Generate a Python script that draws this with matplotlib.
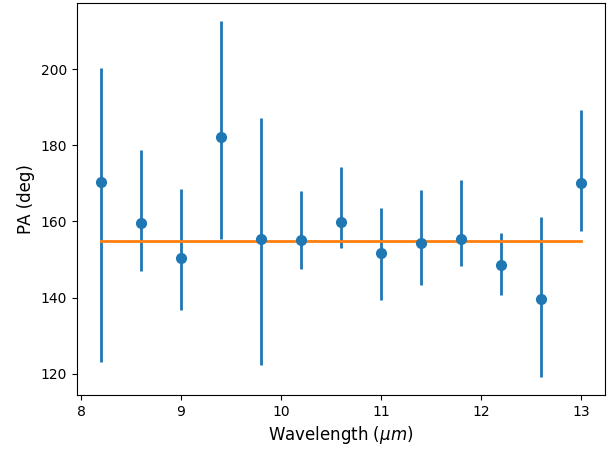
import matplotlib
matplotlib.use("Agg")
import matplotlib.pyplot as plt
import numpy as np

# Position angle vs wavelength
wavelength = [8.2, 8.6, 9.0, 9.4, 9.8, 10.2, 10.6, 11.0, 11.4, 11.8, 12.2, 12.6, 13.0]
pa = [170.3, 159.7, 150.5, 182.3, 155.4, 155.2, 159.8, 151.7, 154.3, 155.4, 148.6, 139.7, 170.2]
pa_upper = [200.4, 178.8, 168.6, 212.7, 187.3, 168.0, 174.2, 163.6, 168.3, 170.9, 156.9, 161.3, 189.3]
pa_lower = [123.2, 147.0, 136.8, 155.5, 122.2, 147.5, 153.0, 139.3, 143.2, 148.2, 140.7, 119.1, 157.5]
pa_mean = 154.9

pa = np.array(pa)
yerr = [pa - np.array(pa_lower), np.array(pa_upper) - pa]

fig = plt.figure(figsize=(6.13, 4.49), dpi=100)
ax = fig.add_axes([77 / 613, 54 / 449, 528 / 613, 392 / 449])

ax.errorbar(wavelength, pa, yerr=yerr, fmt="o", ms=7, elinewidth=2)
ax.plot([wavelength[0], wavelength[-1]], [pa_mean, pa_mean], lw=2)

ax.set_xlabel(r"Wavelength ($\mu m$)", fontsize=12)
ax.set_ylabel("PA (deg)", fontsize=12)

fig.savefig("out.png", dpi=100)
